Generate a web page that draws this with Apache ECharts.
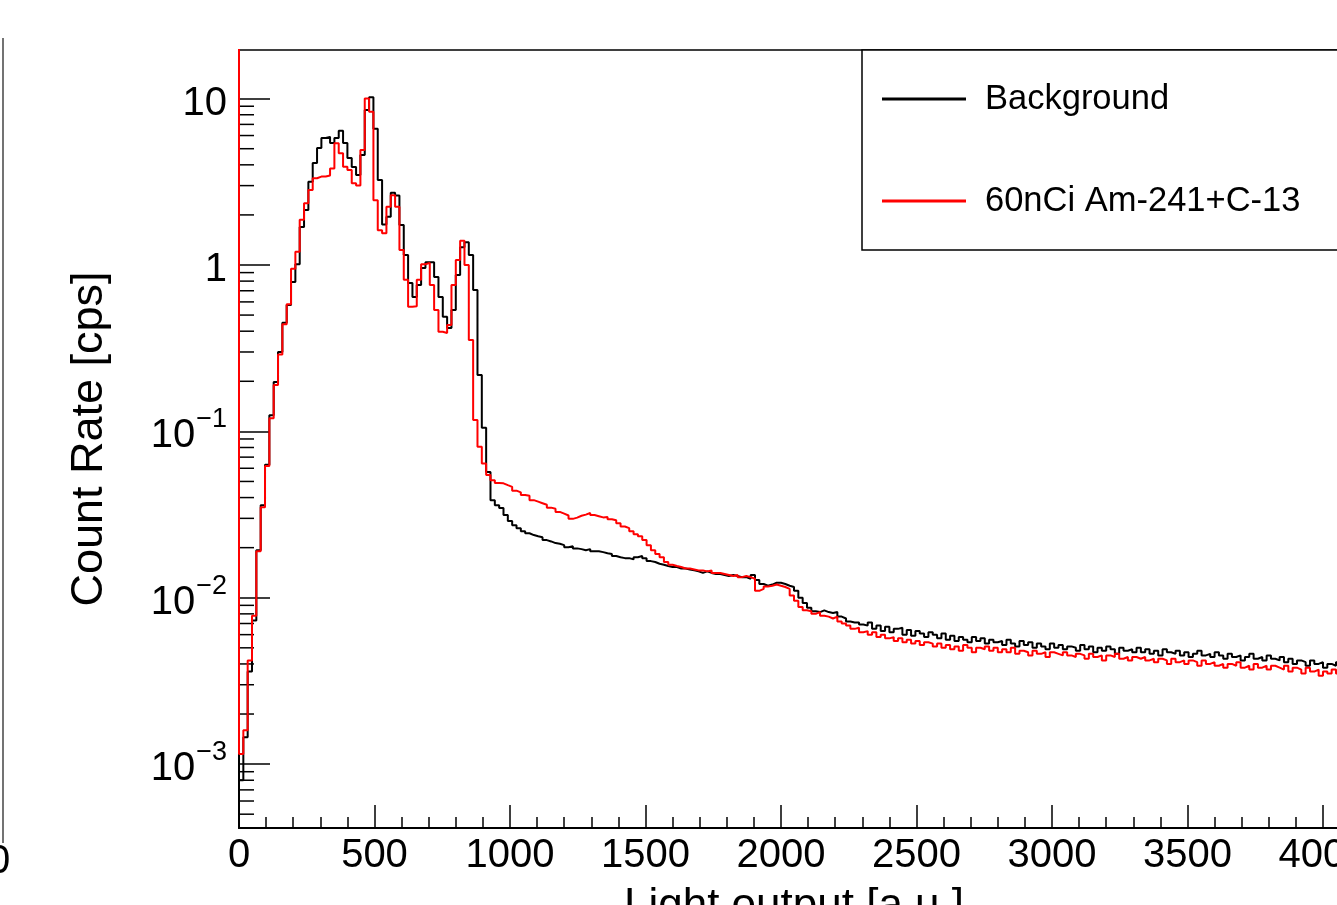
<!DOCTYPE html>
<html>
<head>
<meta charset="utf-8">
<title>Light output spectrum</title>
<script src="https://cdn.jsdelivr.net/npm/echarts@6.0.0/dist/echarts.min.js"></script>
</head>
<body style="margin:0;padding:0;background:#fff">
<div id="main" style="width:1337px;height:905px;"></div>
<script type="text/javascript">
// histogram: 256 bins of 16 a.u., value = count rate of the bin [cps]
var binWidth = 16;
var background = [
  0.0008, 0.00145, 0.0036, 0.0073, 0.0193, 0.036, 0.063, 0.125, 0.198, 0.30, 0.45, 0.575, 0.79, 1.01, 1.69, 2.14,
  3.16, 4.10, 5.05, 5.80, 5.89, 5.42, 5.80, 6.40, 5.42, 4.40, 3.88, 3.48, 4.58, 8.55, 10.2, 6.6,
  3.24, 1.75, 1.95, 2.72, 2.62, 1.74, 1.15, 0.78, 0.643, 0.759, 0.96, 1.04, 1.04, 0.847, 0.643, 0.488,
  0.418, 0.536, 0.871, 1.28, 1.37, 1.15, 0.708, 0.218, 0.105, 0.0569, 0.0386, 0.036, 0.0346, 0.0314, 0.0289, 0.0273,
  0.0262, 0.0251, 0.0244, 0.0238, 0.0234, 0.0231, 0.0222, 0.0218, 0.0213, 0.0211, 0.0207, 0.0201, 0.0204, 0.0198, 0.0196, 0.0193,
  0.0196, 0.0190, 0.0190, 0.0188, 0.0185, 0.0183, 0.0178, 0.0175, 0.0173, 0.0173, 0.0170, 0.0175, 0.0178, 0.0173, 0.0166, 0.0164,
  0.0160, 0.0158, 0.0155, 0.0153, 0.0153, 0.0150, 0.0150, 0.0148, 0.0146, 0.0144, 0.0141, 0.0144, 0.0141, 0.0139, 0.0139, 0.0137,
  0.0135, 0.0137, 0.0135, 0.0133, 0.0133, 0.0130, 0.0137, 0.0128, 0.0121, 0.0118, 0.0120, 0.0123, 0.0123, 0.0121, 0.0118, 0.0116,
  0.0110, 0.0100, 0.0093, 0.0087, 0.0083, 0.0082, 0.0084, 0.0082, 0.0081, 0.0082, 0.0077, 0.0075, 0.0072, 0.0071, 0.0071, 0.0069,
  0.0068, 0.0071, 0.0065, 0.0068, 0.0063, 0.0067, 0.0062, 0.0065, 0.0066, 0.0060, 0.0064, 0.0059, 0.0063, 0.0061, 0.0058, 0.0062,
  0.0060, 0.0057, 0.0061, 0.0056, 0.0059, 0.0055, 0.0058, 0.0056, 0.0054, 0.0058, 0.0055, 0.0057, 0.0053, 0.0056, 0.0054, 0.0055,
  0.0052, 0.0056, 0.0053, 0.0051, 0.0055, 0.0052, 0.0054, 0.0050, 0.0053, 0.0051, 0.0049, 0.0053, 0.0050, 0.0052, 0.0049, 0.0051,
  0.0050, 0.0048, 0.0052, 0.0049, 0.0051, 0.0047, 0.0050, 0.0048, 0.0051, 0.0049, 0.0046, 0.0050, 0.0048, 0.0049, 0.0047, 0.0050,
  0.0047, 0.0049, 0.0046, 0.0048, 0.0045, 0.0049, 0.0047, 0.0046, 0.0048, 0.0045, 0.0047, 0.0044, 0.0046, 0.0048, 0.0045, 0.0046,
  0.0044, 0.0047, 0.0045, 0.0043, 0.0046, 0.0044, 0.0045, 0.0042, 0.0044, 0.0046, 0.0043, 0.0044, 0.0042, 0.0045, 0.0043, 0.0042,
  0.0044, 0.0041, 0.0043, 0.0040, 0.0042, 0.0041, 0.0039, 0.0042, 0.0040, 0.0041, 0.0038, 0.0040, 0.0039, 0.0041, 0.0038, 0.0039
];
var source = [
  0.00115, 0.0016, 0.0042, 0.0078, 0.019, 0.035, 0.062, 0.12, 0.19, 0.29, 0.44, 0.58, 0.95, 1.2, 1.87, 2.35,
  2.82, 3.32, 3.40, 3.40, 3.45, 3.80, 5.40, 4.70, 3.90, 3.73, 3.10, 3.00, 4.91, 10.0, 8.35, 2.45,
  1.62, 1.55, 2.24, 2.63, 2.24, 1.23, 0.815, 0.561, 0.565, 0.815, 1.01, 1.03, 0.759, 0.536, 0.397, 0.39,
  0.436, 0.759, 1.07, 1.40, 1.0, 0.354, 0.117, 0.0807, 0.0641, 0.0546, 0.0509, 0.049, 0.0487, 0.0475, 0.0464, 0.044,
  0.0430, 0.0415, 0.0410, 0.0386, 0.0378, 0.0370, 0.0362, 0.0348, 0.0343, 0.0328, 0.0320, 0.0312, 0.0298, 0.0303, 0.0311, 0.0316,
  0.0323, 0.0314, 0.0309, 0.0304, 0.0306, 0.0296, 0.0292, 0.0280, 0.0268, 0.0262, 0.0251, 0.0241, 0.0234, 0.0222, 0.0207, 0.0193,
  0.0183, 0.0175, 0.0164, 0.0158, 0.0155, 0.0153, 0.0150, 0.0150, 0.0148, 0.0146, 0.0146, 0.0144, 0.0146, 0.0141, 0.0141, 0.0139,
  0.0137, 0.0135, 0.0137, 0.0133, 0.0135, 0.0133, 0.0130, 0.0110, 0.0113, 0.0117, 0.0118, 0.0120, 0.0118, 0.0116, 0.0113, 0.0103,
  0.0096, 0.0088, 0.0084, 0.0083, 0.0080, 0.0082, 0.0078, 0.0077, 0.0075, 0.0077, 0.0072, 0.0070, 0.0068, 0.0065, 0.0066, 0.0062,
  0.0063, 0.0060, 0.0062, 0.0058, 0.0060, 0.0057, 0.0058, 0.0055, 0.0057, 0.0054, 0.0056, 0.0053, 0.0055, 0.0052, 0.0054, 0.0053,
  0.0051, 0.0053, 0.0050, 0.0052, 0.0049, 0.0051, 0.0048, 0.0052, 0.0050, 0.0047, 0.0050, 0.0049, 0.0051, 0.0048, 0.0050, 0.0047,
  0.0049, 0.0047, 0.0050, 0.0046, 0.0048, 0.0047, 0.0045, 0.0048, 0.0046, 0.0047, 0.0044, 0.0047, 0.0046, 0.0045, 0.0047, 0.0045,
  0.0044, 0.0046, 0.0045, 0.0043, 0.0046, 0.0044, 0.0045, 0.0042, 0.0045, 0.0044, 0.0046, 0.0043, 0.0044, 0.0042, 0.0044, 0.0043,
  0.0044, 0.0042, 0.0043, 0.0041, 0.0043, 0.0042, 0.0040, 0.0043, 0.0041, 0.0042, 0.0040, 0.0042, 0.0041, 0.0039, 0.0042, 0.0040,
  0.0041, 0.0039, 0.0040, 0.0038, 0.0040, 0.0039, 0.0041, 0.0038, 0.0039, 0.0037, 0.0040, 0.0038, 0.0039, 0.0037, 0.0039, 0.0038,
  0.0037, 0.0039, 0.0036, 0.0038, 0.0037, 0.0035, 0.0038, 0.0036, 0.0037, 0.0034, 0.0036, 0.0035, 0.0037, 0.0035, 0.0036, 0.0035
];
var seriesNames = ['Background', '60nCi Am-241+C-13'];
var yMinorTicks = [
  0.0005, 0.0006, 0.0007, 0.0008, 0.0009,
  0.002, 0.003, 0.004, 0.005, 0.006, 0.007, 0.008, 0.009,
  0.02, 0.03, 0.04, 0.05, 0.06, 0.07, 0.08, 0.09,
  0.2, 0.3, 0.4, 0.5, 0.6, 0.7, 0.8, 0.9,
  2, 3, 4, 5, 6, 7, 8, 9
];
var yTickLabels = {'1': '{b|10}', '0': '{b|1}', '-1': '{b|10}{e|\u22121}', '-2': '{b|10}{e|\u22122}', '-3': '{b|10}{e|\u22123}'};

var font = 'Liberation Sans, Arial, Helvetica, sans-serif';

// ROOT style histogram outline: start with the off-scale underflow edge, then low edge of each bin
function toSteps(values) {
  var pts = [[0, 1000]];
  for (var i = 0; i < values.length; i++) {
    pts.push([i * binWidth, values[i]]);
  }
  pts.push([values.length * binWidth, values[values.length - 1]]);
  return pts;
}

var myChart = echarts.init(document.getElementById('main'));

var option = {
  animation: false,
  backgroundColor: '#fff',
  textStyle: { fontFamily: font },
  grid: {
    left: 239,
    top: 50,
    width: 1110,
    height: 778,
    outerBoundsMode: 'none',
    containLabel: false,
    show: true,
    borderColor: '#000',
    borderWidth: 1.5
  },
  legend: {
    orient: 'vertical',
    left: 862,
    top: 50,
    padding: [29, 160, 29, 20],
    itemGap: 62,
    itemWidth: 84,
    itemHeight: 3,
    icon: 'rect',
    borderColor: '#000',
    borderWidth: 1.5,
    backgroundColor: '#fff',
    textStyle: { fontFamily: font, fontSize: 34.5, color: '#000', lineHeight: 40, padding: [0, 0, 0, 14] },
    data: seriesNames
  },
  xAxis: {
    type: 'value',
    min: 0,
    max: 4096,
    interval: 500,
    name: 'Light output [a.u.]',
    nameLocation: 'middle',
    nameGap: 57,
    nameTextStyle: { fontFamily: font, fontSize: 44, color: '#000' },
    axisLine: { show: true, onZero: false, lineStyle: { color: '#000', width: 2 } },
    axisTick: { inside: true, length: 23, lineStyle: { color: '#000', width: 1.5 } },
    minorTick: { show: true, splitNumber: 5, length: 11, lineStyle: { color: '#000', width: 1.5 } },
    axisLabel: {
      fontFamily: font, fontSize: 40, color: '#000', margin: 8, showMaxLabel: false,
      formatter: function (v) { return v % 500 === 0 ? String(v) : ''; }
    },
    splitLine: { show: false }
  },
  yAxis: {
    type: 'log',
    logBase: 10,
    min: 0.000413,
    max: 19.6,
    name: 'Count Rate [cps]',
    nameLocation: 'middle',
    nameGap: 127,
    nameTextStyle: { fontFamily: font, fontSize: 45, color: '#000' },
    axisLine: { show: true, lineStyle: { color: '#000', width: 2 } },
    axisTick: { inside: true, length: 31, lineStyle: { color: '#000', width: 1.5 } },
    axisLabel: {
      margin: 12,
      showMinLabel: false,
      showMaxLabel: false,
      formatter: function (v) {
        var e = Math.round(Math.log10(v));
        if (Math.abs(Math.log10(v) - e) > 1e-6) return '';
        return yTickLabels[String(e)] || '';
      },
      rich: {
        b: { fontFamily: font, fontSize: 40, color: '#000', lineHeight: 50, verticalAlign: 'bottom' },
        e: { fontFamily: font, fontSize: 27, color: '#000', lineHeight: 50, verticalAlign: 'top', padding: [0, 0, 0, 1] }
      }
    },
    splitLine: { show: false }
  },
  graphic: [
    { type: 'line', shape: { x1: 3, y1: 38, x2: 3, y2: 843 }, style: { stroke: '#444', lineWidth: 1.5 } },
    { type: 'text', left: -12, top: 842, style: { text: '0', fontFamily: font, fontSize: 40, fill: '#000' } }
  ],
  series: [
    {
      type: 'custom',
      silent: true,
      coordinateSystem: 'cartesian2d',
      data: yMinorTicks.map(function (v) { return [0, v]; }),
      renderItem: function (params, api) {
        var p = api.coord([0, api.value(1)]);
        return {
          type: 'line',
          shape: { x1: p[0], y1: p[1], x2: p[0] + 15, y2: p[1] },
          style: { stroke: '#000', lineWidth: 1.5 }
        };
      }
    },
    {
      name: seriesNames[0],
      type: 'line',
      step: 'end',
      symbol: 'none',
      clip: true,
      color: '#000000',
      lineStyle: { color: '#000000', width: 2 },
      data: toSteps(background)
    },
    {
      name: seriesNames[1],
      type: 'line',
      step: 'end',
      symbol: 'none',
      clip: true,
      color: '#ff0000',
      lineStyle: { color: '#ff0000', width: 2 },
      data: toSteps(source)
    }
  ]
};
myChart.setOption(option);
</script>
</body>
</html>
